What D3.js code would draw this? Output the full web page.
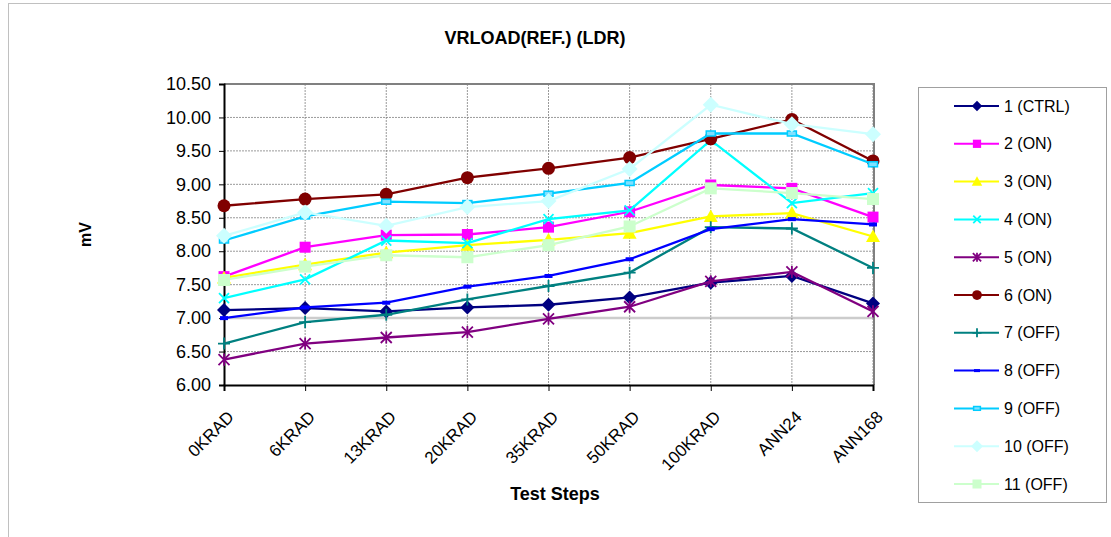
<!DOCTYPE html>
<html>
<head>
<meta charset="utf-8">
<script src="https://cdn.jsdelivr.net/npm/d3@7"></script>
<style>
  body { margin: 0; background: #fff; }
  text { font-family: "Liberation Sans", Arial, sans-serif; fill: #000; }
</style>
</head>
<body>
<script>
var width = 1111;
var height = 537;

var steps = ['0KRAD', '6KRAD', '13KRAD', '20KRAD', '35KRAD', '50KRAD', '100KRAD', 'ANN24', 'ANN168'];
var yTicks = [6.0, 6.5, 7.0, 7.5, 8.0, 8.5, 9.0, 9.5, 10.0, 10.5];

var names = ['1 (CTRL)', '2 (ON)', '3 (ON)', '4 (ON)', '5 (ON)', '6 (ON)', '7 (OFF)', '8 (OFF)', '9 (OFF)', '10 (OFF)', '11 (OFF)'];
var colors = ['#000080', '#FF00FF', '#FFFF00', '#00FFFF', '#800080', '#800000', '#008080', '#0000FF', '#00CCFF', '#CCFFFF', '#CCFFCC'];
var markers = ['diamond', 'square', 'triangle', 'x', 'star', 'circle', 'plus', 'dash', 'dash2', 'diamond', 'square'];

var s1 = [7.12, 7.15, 7.10, 7.16, 7.20, 7.31, 7.53, 7.63, 7.22];
var s2 = [7.62, 8.06, 8.24, 8.25, 8.36, 8.59, 8.99, 8.94, 8.51];
var s3 = [7.60, 7.80, 7.98, 8.09, 8.17, 8.27, 8.52, 8.57, 8.22];
var s4 = [7.30, 7.58, 8.16, 8.12, 8.48, 8.61, 9.66, 8.72, 8.87];
var s5 = [6.38, 6.62, 6.71, 6.79, 6.99, 7.17, 7.55, 7.69, 7.10];
var s6 = [8.68, 8.78, 8.85, 9.10, 9.24, 9.40, 9.68, 9.97, 9.35];
var s7 = [6.62, 6.94, 7.05, 7.28, 7.48, 7.68, 8.36, 8.34, 7.75];
var s8 = [7.00, 7.16, 7.23, 7.47, 7.63, 7.88, 8.33, 8.48, 8.40];
var s9 = [8.16, 8.52, 8.74, 8.72, 8.86, 9.02, 9.76, 9.76, 9.30];
var s10 = [8.23, 8.58, 8.38, 8.66, 8.75, 9.23, 10.19, 9.90, 9.75];
var s11 = [7.57, 7.77, 7.94, 7.91, 8.09, 8.37, 8.94, 8.87, 8.78];
var seriesValues = [s1, s2, s3, s4, s5, s6, s7, s8, s9, s10, s11];

var plot = {left: 224, right: 873, top: 84, bottom: 385};

var svg = d3.select('body').append('svg')
            .attr('width', width)
            .attr('height', height);

// outer chart border (partly cut off like the screenshot)
svg.append('rect')
   .attr('x', 8.5).attr('y', 3.5)
   .attr('width', width + 20).attr('height', height + 20)
   .attr('fill', 'none')
   .attr('stroke', '#c0c0c0')
   .attr('stroke-width', 1);

var x = d3.scalePoint().domain(steps).range([plot.left, plot.right]);
var y = d3.scaleLinear().domain([6, 10.5]).range([plot.bottom, plot.top]);

// gridlines
var grid = svg.append('g').attr('class', 'grid');
grid.selectAll('.hgrid')
    .data(yTicks.filter(d => d > 6))
    .enter().append('line')
    .attr('x1', plot.left).attr('x2', plot.right)
    .attr('y1', d => y(d)).attr('y2', d => y(d))
    .attr('stroke', d => d === 7.0 ? '#cccccc' : '#808080')
    .attr('stroke-width', d => d === 7.0 ? 2.5 : 0.8)
    .attr('stroke-dasharray', d => d === 7.0 ? null : '2,1');
grid.selectAll('.vgrid')
    .data(steps.slice(1))
    .enter().append('line')
    .attr('x1', d => x(d)).attr('x2', d => x(d))
    .attr('y1', plot.top).attr('y2', plot.bottom)
    .attr('stroke', '#808080')
    .attr('stroke-width', 0.8)
    .attr('stroke-dasharray', '2,1');

// plot frame: top/right gray
svg.append('path')
   .attr('d', 'M' + plot.left + ',' + plot.top + 'H' + (plot.right + 1) + 'V' + plot.bottom)
   .attr('fill', 'none')
   .attr('stroke', '#808080')
   .attr('stroke-width', 2);

// axes
var yAxis = d3.axisLeft(y).tickValues(yTicks).tickFormat(d3.format('.2f')).tickSize(5);
var xAxis = d3.axisBottom(x).tickSize(6).tickFormat('');

var yG = svg.append('g').attr('transform', 'translate(' + plot.left + ',0)').call(yAxis);
yG.select('.domain').attr('stroke', '#000').attr('stroke-width', 2);
yG.selectAll('.tick line').attr('stroke', '#000');
yG.selectAll('.tick text')
  .attr('x', -13)
  .style('font-size', '18px')
  .style('font-family', '"Liberation Sans", Arial, sans-serif');

var xG = svg.append('g').attr('transform', 'translate(0,' + plot.bottom + ')').call(xAxis);
xG.select('.domain').attr('stroke', '#000').attr('stroke-width', 2);
xG.selectAll('.tick line').attr('stroke', '#000');

svg.append('g').selectAll('.xlabel')
   .data(steps)
   .enter().append('text')
   .attr('transform', d => 'translate(' + (x(d) + 2) + ',' + (plot.bottom + 24) + ') rotate(-45)')
   .attr('text-anchor', 'end')
   .attr('dy', '0.75em')
   .style('font-size', '17px')
   .text(d => d);

// titles
svg.append('text')
   .attr('x', 535).attr('y', 44)
   .attr('text-anchor', 'middle')
   .style('font-size', '18px')
   .style('font-weight', 'bold')
   .text('VRLOAD(REF.) (LDR)');

svg.append('text')
   .attr('transform', 'translate(91,' + ((plot.top + plot.bottom) / 2) + ') rotate(-90)')
   .attr('text-anchor', 'middle')
   .style('font-size', '16px')
   .style('font-weight', 'bold')
   .text('mV');

svg.append('text')
   .attr('x', 555).attr('y', 500)
   .attr('text-anchor', 'middle')
   .style('font-size', '18px')
   .style('font-weight', 'bold')
   .text('Test Steps');

// marker drawing
var drawMarker = function(g, type, color, scale) {
  var k = scale;
  if (type === 'diamond') {
    var r = (color === '#000080' ? 7 : 8) * k;
    g.append('path').attr('d', 'M0,' + -r + 'L' + r + ',0L0,' + r + 'L' + -r + ',0Z')
     .attr('fill', color);
  } else if (type === 'square') {
    var s = (color === '#CCFFCC' ? 12 : 11) * k;
    g.append('rect').attr('x', -s / 2).attr('y', -s / 2).attr('width', s).attr('height', s)
     .attr('fill', color);
  } else if (type === 'triangle') {
    var t = 7 * k;
    g.append('path').attr('d', 'M0,' + (-t) + 'L' + t + ',' + (t * 0.8) + 'L' + (-t) + ',' + (t * 0.8) + 'Z')
     .attr('fill', color);
  } else if (type === 'x') {
    var a = 5 * k;
    g.append('path').attr('d', 'M' + -a + ',' + -a + 'L' + a + ',' + a + 'M' + a + ',' + -a + 'L' + -a + ',' + a)
     .attr('stroke', color).attr('stroke-width', 1.8);
  } else if (type === 'star') {
    var b = 5.5 * k;
    g.append('path').attr('d', 'M' + -b + ',' + -b + 'L' + b + ',' + b + 'M' + b + ',' + -b + 'L' + -b + ',' + b +
                               'M0,' + (-b * 1.1) + 'V' + (b * 1.1))
     .attr('stroke', color).attr('stroke-width', 1.8);
  } else if (type === 'circle') {
    g.append('circle').attr('r', 6.5 * k).attr('fill', color);
  } else if (type === 'plus') {
    var p = 6 * k;
    g.append('path').attr('d', 'M0,' + -p + 'V' + p + 'M' + -p + ',0H' + p)
     .attr('stroke', color).attr('stroke-width', 1.8);
  } else if (type === 'dash') {
    g.append('rect').attr('x', -4 * k).attr('y', -2 * k).attr('width', 8 * k).attr('height', 4 * k)
     .attr('fill', color);
  } else if (type === 'dash2') {
    g.append('rect').attr('x', -4.5 * k).attr('y', -2.5 * k).attr('width', 9 * k).attr('height', 5 * k)
     .attr('fill', '#80e0ff').attr('stroke', color).attr('stroke-width', 1.5);
  }
};

// series
var line = d3.line()
             .x((d, i) => x(steps[i]))
             .y(d => y(d));

seriesValues.forEach(function(vals, si) {
  var g = svg.append('g').attr('class', 'series');
  g.append('path')
   .datum(vals)
   .attr('d', line)
   .attr('fill', 'none')
   .attr('stroke', colors[si])
   .attr('stroke-width', 2.3);
  vals.forEach(function(v, i) {
    var mg = g.append('g').attr('transform', 'translate(' + x(steps[i]) + ',' + y(v) + ')');
    drawMarker(mg, markers[si], colors[si], 1);
  });
});

// legend
var legend = svg.append('g');
legend.append('rect')
      .attr('x', 918.5).attr('y', 87.5)
      .attr('width', 188).attr('height', 415)
      .attr('fill', '#fff')
      .attr('stroke', '#a0a0a0')
      .attr('stroke-width', 1);

var legendY = d3.scaleLinear().domain([0, names.length - 1]).range([106, 484]);
names.forEach(function(name, i) {
  var ly = legendY(i);
  var lg = legend.append('g');
  lg.append('line')
    .attr('x1', 954).attr('x2', 999)
    .attr('y1', ly).attr('y2', ly)
    .attr('stroke', colors[i])
    .attr('stroke-width', 2);
  var mg = lg.append('g').attr('transform', 'translate(977,' + ly + ')');
  drawMarker(mg, markers[i], colors[i], 0.75);
  lg.append('text')
    .attr('x', 1004).attr('y', ly)
    .attr('dy', '0.35em')
    .style('font-size', '16px')
    .text(name);
});
</script>
</body>
</html>
